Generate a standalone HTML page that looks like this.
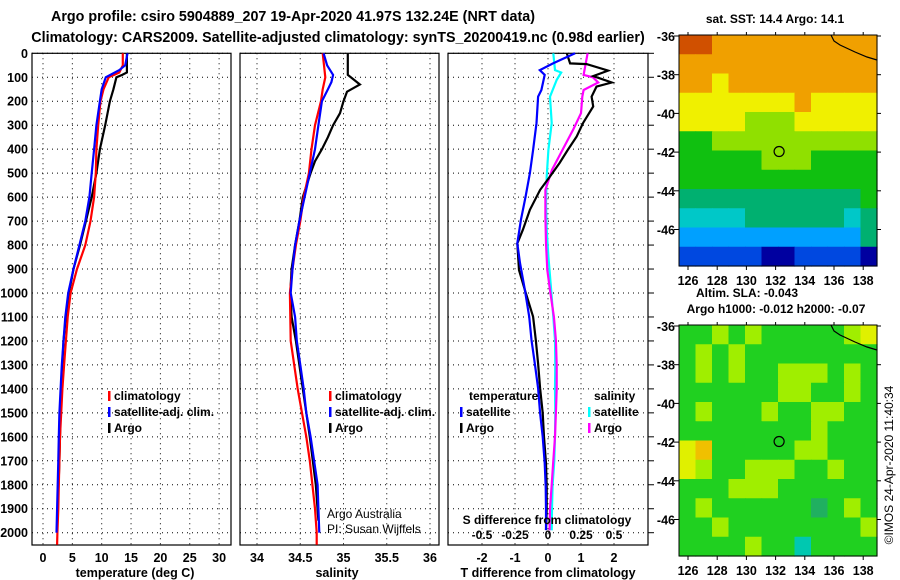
<!DOCTYPE html>
<html><head><meta charset="utf-8"><style>
body{margin:0;background:#fff;}
svg{display:block;font-family:"Liberation Sans",Arial,sans-serif;}
.b{font-weight:bold;font-size:12px;}
.n{font-size:12px;}
.t{font-weight:bold;font-size:12.5px;}
</style></head><body>
<svg id="s" width="900" height="580" viewBox="0 0 900 580">
<text x="293" y="21" text-anchor="middle" font-size="14.3" font-weight="bold">Argo profile: csiro 5904889_207 19-Apr-2020 41.97S 132.24E (NRT data)</text>
<text x="338" y="42" text-anchor="middle" font-size="14.3" font-weight="bold">Climatology: CARS2009. Satellite-adjusted climatology: synTS_20200419.nc (0.98d earlier)</text>
</svg>
<script>
// ---------- data ----------
const tDepthClim=[0,50,80,100,150,200,300,400,500,600,700,800,900,1000,1100,1200,1300,1400,1500,1600,1700,1800,1900,2000,2050];
const tClim=[13.6,13.6,13.0,11.2,10.3,9.8,9.4,9.1,9.0,8.7,8.1,7.2,5.8,4.7,4.2,3.9,3.6,3.3,3.1,2.9,2.8,2.7,2.6,2.45,2.4];
const tDepthSat=[0,50,70,100,150,200,300,400,500,600,700,800,900,1000,1100,1200,1300,1400,1500,1600,1700,1800,1900,2000];
const tSat=[14.4,14.0,13.0,10.7,10.0,9.7,9.1,8.7,8.3,7.9,7.2,6.2,5.2,4.3,3.8,3.5,3.2,3.0,2.8,2.7,2.6,2.5,2.4,2.3];
const tDepthArgo=[0,80,90,100,150,200,300,400,500,600,700,800,900,1000,1100,1200,1300,1500,1700,1900,1950];
const tArgo=[14.3,14.3,13.5,12.5,12.0,11.4,10.6,9.7,9.1,8.3,7.3,6.3,5.2,4.4,3.9,3.5,3.3,3.0,2.8,2.5,2.4];

const sDepthClim=[0,100,150,200,300,400,500,600,700,800,900,1000,1100,1200,1300,1400,1500,1600,1700,1800,1900,2000,2050];
const sClim=[34.76,34.79,34.76,34.74,34.67,34.63,34.60,34.54,34.50,34.45,34.41,34.38,34.385,34.39,34.43,34.47,34.52,34.57,34.61,34.64,34.67,34.69,34.69];
const sDepthSat=[0,50,90,120,150,200,300,400,500,600,700,800,900,1000,1100,1200,1300,1400,1500,1600,1700,1800,1900,2000];
const sSat=[34.77,34.81,34.88,34.86,34.82,34.75,34.71,34.67,34.61,34.55,34.49,34.44,34.41,34.39,34.44,34.46,34.50,34.54,34.57,34.62,34.66,34.70,34.71,34.72];
const sDepthArgo=[0,90,130,160,200,250,300,350,400,450,500,600,700,800,900,1000,1100,1200,1400,1600,1800,1950];
const sArgo=[35.05,35.05,35.19,35.04,35.0,34.96,34.88,34.82,34.75,34.67,34.62,34.53,34.49,34.44,34.40,34.385,34.40,34.45,34.53,34.61,34.68,34.71];

const dtDepthSat=[0,42,70,90,153,181,291,403,500,598,695,793,875,988,1099,1196,1294,1397,1501,1600,1710,1808,1905,1989];
const dtSat=[0.82,0.15,-0.25,-0.1,-0.2,-0.3,-0.35,-0.45,-0.55,-0.68,-0.82,-0.93,-0.85,-0.7,-0.57,-0.5,-0.4,-0.3,-0.24,-0.16,-0.1,-0.07,-0.06,-0.06];
const dtDepthArgo=[0,42,45,72,95,122,139,181,222,291,347,403,458,514,570,653,736,793,904,988,1099,1196,1294,1397,1500,1600,1710,1808,1905,1989];
const dtArgo=[0.57,0.67,1.17,1.82,1.37,1.93,1.47,1.32,1.37,1.06,0.87,0.6,0.35,0.06,-0.24,-0.55,-0.76,-0.93,-0.88,-0.7,-0.45,-0.37,-0.3,-0.24,-0.16,-0.12,-0.06,-0.04,-0.04,-0.06];
const dsDepthSat=[0,70,80,111,181,291,403,514,625,736,848,959,1099,1196,1300,1400,1500,1600,1700,1800,1900,1990];
const dsSat=[0.04,0.053,0.10,0.066,0.015,0.028,0.003,-0.01,-0.015,-0.01,0.003,0.02,0.04,0.053,0.055,0.053,0.055,0.053,0.048,0.035,0.03,0.028];
const dsDepthArgo=[0,90,100,122,153,181,250,319,403,486,570,681,793,904,988,1099,1196,1300,1400,1500,1600,1700,1800,1900,1990];
const dsArgo=[0.30,0.27,0.34,0.38,0.27,0.26,0.25,0.19,0.11,0.03,-0.02,-0.02,-0.015,-0.005,0.015,0.045,0.06,0.066,0.066,0.06,0.053,0.04,0.028,0.015,0.012];

const depthTicks=[0,100,200,300,400,500,600,700,800,900,1000,1100,1200,1300,1400,1500,1600,1700,1800,1900,2000];
const tTicks=[0,5,10,15,20,25,30];
const sTicks=[34,34.5,35,35.5,36];
const sTickLabels=["34","34.5","35","35.5","36"];
const dtTicks=[-2,-1,0,1,2];
const dsTicks=[-0.5,-0.25,0,0.25,0.5];
const dsTickLabels=["-0.5","-0.25","0","0.25","0.5"];

// map grids (digit = colour class, rows from north to south)
const sstGrid=["998888888888","888888888888","887888888888","777777787777","777766677777","556666666666","555556665555","555555555555","444444444445","333344444434","222222222224","111110011110"];
const slaGrid=["556565555567","565655555555","565655666565","555555665565","565556556655","555555556555","785555566555","765566655655","555666555555","565555554565","556555555556","555565535555"];
const latTicks=[-36,-38,-40,-42,-44,-46];
const lonTicks=[126,128,130,132,134,136,138];
const floatLon=132.24, floatLat=-41.97;

// ---------- helpers ----------
const S=document.getElementById('s');
const NS='http://www.w3.org/2000/svg';
function mk(tag,attrs,parent){const e=document.createElementNS(NS,tag);for(const k in attrs)e.setAttribute(k,attrs[k]);(parent||S).appendChild(e);return e;}
function txt(x,y,s,cls,anchor,parent){const e=mk('text',{x:x,y:y,class:cls,'text-anchor':anchor||'middle'},parent);e.textContent=s;return e;}
const yD=d=>53.3+d*0.2397;
const PT={x0:32,x1:231,xs:v=>43+v*5.87};
const PS={x0:240,x1:439,xs:v=>257+(v-34)*86.5};
const PD={x0:448,x1:648,xs:v=>548+v*33};
const dsX=v=>548+v*132;
const TOP=53.3,BOT=545;

function panel(P,ticks,labels,name,title,titleX){
  const g=mk('g',{});
  
  
  depthTicks.forEach(d=>{const l=mk('line',{x1:P.x0,x2:P.x1,y1:yD(d),y2:yD(d),stroke:'#000','stroke-width':1,'stroke-dasharray':'1,4'},g);
    });
  ticks.forEach((v,i)=>{const x=P.xs(v);
    const l=mk('line',{x1:x,x2:x,y1:TOP,y2:BOT,stroke:'#000','stroke-width':1,'stroke-dasharray':'1,4'},g);
    
    const t=txt(x,562,labels[i],'t','middle',g);
    });
  const r=mk('rect',{x:P.x0,y:TOP,width:P.x1-P.x0,height:BOT-TOP,fill:'none',stroke:'#000','stroke-width':1.2},g);
  
  const t=txt(titleX,577,title,'t','middle',g);
  
  return g;
}
function series(depths,vals,xf,color,name,w){
  const pts=depths.map((d,i)=>xf(vals[i]).toFixed(1)+','+yD(d).toFixed(1)).join(' ');
  const p=mk('polyline',{points:pts,fill:'none',stroke:color,'stroke-width':w||2.2,'stroke-linejoin':'miter'});
  
  
}
function legend(x,y,color,label){
  const m=mk('rect',{x:x,y:y-9,width:2.5,height:10,fill:color});
  
  const t=txt(x+6,y,label,'b','start');
  
}

// y tick labels
depthTicks.forEach(d=>{const t=txt(28,yD(d)+4.5,String(d),'t','end');
  });

panel(PT,tTicks,tTicks.map(String),'temperature-panel','temperature (deg C)',135);
panel(PS,sTicks,sTickLabels,'salinity-panel','salinity',337);
panel(PD,dtTicks,dtTicks.map(String),'difference-panel','T difference from climatology',548);
depthTicks.forEach(d=>{const l=mk('line',{x1:648,x2:654,y1:yD(d),y2:yD(d),stroke:'#000'});
  });

series(tDepthArgo,tArgo,PT.xs,'#000','temp-argo-line');
series(tDepthClim,tClim,PT.xs,'#f00','temp-climatology-line');
series(tDepthSat,tSat,PT.xs,'#00f','temp-satellite-line');
series(sDepthArgo,sArgo,PS.xs,'#000','sal-argo-line');
series(sDepthClim,sClim,PS.xs,'#f00','sal-climatology-line');
series(sDepthSat,sSat,PS.xs,'#00f','sal-satellite-line');
series(dsDepthSat,dsSat,dsX,'#0ff','sdiff-satellite-line');
series(dsDepthArgo,dsArgo,dsX,'#f0f','sdiff-argo-line');
series(dtDepthArgo,dtArgo,PD.xs,'#000','tdiff-argo-line');
series(dtDepthSat,dtSat,PD.xs,'#00f','tdiff-satellite-line');

legend(108,400,'#f00','climatology');
legend(108,416,'#00f','satellite-adj. clim.');
legend(108,432,'#000','Argo');
legend(329,400,'#f00','climatology');
legend(329,416,'#00f','satellite-adj. clim.');
legend(329,432,'#000','Argo');
{const t=txt(469,400,'temperature','b','start');}
legend(460,416,'#00f','satellite');
legend(460,432,'#000','Argo');
{const t=txt(594,400,'salinity','b','start');}
legend(588,416,'#0ff','satellite');
legend(588,432,'#f0f','Argo');

{const t=txt(327,518,'Argo Australia','n','start');
 const t2=txt(327,533,'PI: Susan Wijffels','n','start');
 const t3=txt(547,524,'S difference from climatology','b','middle');}
dsTicks.forEach((v,i)=>{const t=txt(dsX(v),539,dsTickLabels[i],'b','middle');
  });

// ---------- maps ----------
const sstCols=['#0000a0','#0048e0','#00a0ff','#00c8c8','#00b070','#10c010','#90e000','#f0f000','#f0a000','#d05000'];
const slaCols=['#0000a0','#0048e0','#00a0ff','#00c8b0','#20b060','#20d020','#a0ee00','#e0f000','#f0c000','#d05000'];
function map(y0,y1,grid,cols,name,circleName){
  const x0=679,x1=877;
  const g=mk('g',{});
  
  const rows=grid.length,nc=grid[0].length;
  const cw=(x1-x0)/nc,ch=(y1-y0)/rows;
  grid.forEach((row,r)=>{for(let c=0;c<nc;c++){
    const cell=mk('rect',{x:x0+c*cw,y:y0+r*ch,width:cw+0.6,height:ch+0.6,fill:cols[+row[c]]},g);
    }});
  const lonX=l=>688+(l-126)*14.6;
  const latY=l=>y0+1+(-36-l)*19.35;
  const cl=mk('polyline',{points:`831,${y0} 834,${y0+6} 840,${y0+10} 855,${y0+17} 867,${y0+22} 877,${y0+25}`,fill:'none',stroke:'#000','stroke-width':1.2},g);
  
  const cc=mk('circle',{cx:lonX(floatLon),cy:latY(floatLat),r:5,fill:'none',stroke:'#000','stroke-width':1.2},g);
  
  mk('rect',{x:x0,y:y0,width:x1-x0,height:y1-y0,fill:'none',stroke:'#000','stroke-width':1},g);
  latTicks.forEach(l=>{const y=latY(l);mk('line',{x1:x0-5,x2:x0,y1:y,y2:y,stroke:'#000'},g);mk('line',{x1:x1,x2:x1+4,y1:y,y2:y,stroke:'#000'},g);
    const t=txt(675,y+5,String(l),'t','end',g);});
  lonTicks.forEach(l=>{const x=lonX(l);mk('line',{x1:x,x2:x,y1:y0-3,y2:y0,stroke:'#000'},g);mk('line',{x1:x,x2:x,y1:y1,y2:y1+4,stroke:'#000'},g);
    const t=txt(x,y1+19,String(l),'t','middle',g);});
}
map(35,266,sstGrid,sstCols,'sst-map','float-marker-sst');
map(325,556,slaGrid,slaCols,'sla-map','float-marker-sla');
[['sat. SST: 14.4 Argo: 14.1',775,23,'sst-map-title'],['Altim. SLA: -0.043',747,297,'sla-map-title'],['Argo h1000: -0.012 h2000: -0.07',776,313,'argo-height-title']].forEach(a=>{
  const t=txt(a[1],a[2],a[0],'b','middle');});
{const t=mk('text',{x:0,y:0,transform:'translate(893,465) rotate(-90)','text-anchor':'middle','font-size':'12'});
 t.textContent='©IMOS 24-Apr-2020 11:40:34';
 
 }
</script>
</body></html>
